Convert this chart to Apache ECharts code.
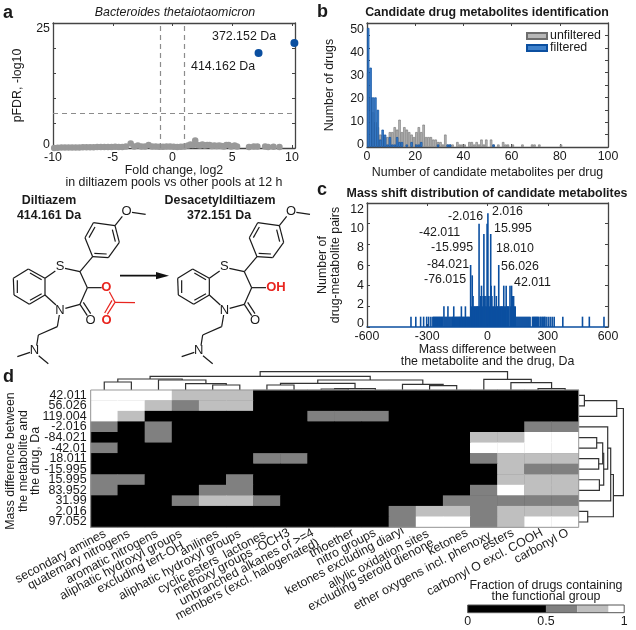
<!DOCTYPE html>
<html>
<head>
<meta charset="utf-8">
<style>
  html, body { margin: 0; padding: 0; background: #fff; }
  #chart { width: 636px; height: 630px; }
</style>
<script src="https://cdn.jsdelivr.net/npm/echarts@6/dist/echarts.min.js"></script>
</head>
<body>
<div id="chart"></div>
<script>
// panel a: volcano plot
const hitNames = ["372.152 Da", "414.162 Da"];
const hitFold = [10.2, 7.2];
const hitFdr = [21, 19];
const otherFold = [-9.9,-9.6,-9.3,-9,-8.7,-8.4,-8.1,-7.8,-7.5,-7.2,-6.9,-6.6,-6.3,-6,-5.7,-5.4,-5.1,-4.8,-4.5,-4.2,-3.9,-3.5,-3.2,-2.9,-2.6,-2.3,-2,-1.7,-1.4,-1.1,-0.8,-0.5,-0.2,0.1,0.4,0.7,1,1.3,1.5,1.7,1.9,2.1,2.3,2.5,2.7,2.9,3.1,3.3,3.5,3.7,3.9,4.1,4.3,4.5,4.7,4.9,5.2,5.4,6.4,6.8,7.1,7.75,8,8.45,8.95];
const otherFdr = [0,0.05,0.1,0.1,0.1,0.1,0.1,0.1,0.15,0.15,0.15,0.15,0.2,0.2,0.2,0.2,0.2,0.25,0.2,0.2,0.3,0.9,0.3,0.5,0.3,0.3,0.6,0.3,0.3,0.25,0.25,0.3,0.3,0.25,0.2,0.25,0.3,0.5,0.7,0.6,1.5,0.6,0.5,0.7,0.5,0.6,0.6,0.4,0.5,0.4,0.5,0.4,0.3,0.6,0.6,0.3,0.5,0.3,0.2,0.3,0.3,0.3,0.2,0.25,0.2];
const foldCuts = [-1, 1];
const fdrCut = 6.9;

// panel b: number of drugs per bin of one candidate, bins start at 0
const unfilteredCounts = [30,20,14,10,8,5,5,4,4,6,6,8,7,11,6,8,7,6,5,4,6,8,6,9,4,4,4,3,3,2,2,1,5,1,1,1,0,2,1,1,1,0,2,2,1,2,1,3,1,3,0,3,1,0,1,0,2,1,1,0,1,0,0,0,1,0,0,0,1,1,0,1,0,0,0,0,0,0,0,0,1];
const filteredCounts = [48,32,20,20,15,3,7,5,1,4,1,1,4,2,2,0,1,0,2,0,1,1,2,0,0,0,0,0,0,1,0,0,0,1,1,0,0,0,0,0,0,0,0,0,0,0,0,0,0,0,0,0,1];

// panel c: pairs per mass difference
const massDiff = [-381,-357,-333,-318,-303,-293,-282,-272,-268,-263,-258,-253,-248,-243,-238,-233,-228,-223,-217,-212,-207,-202,-197,-192,-187,-182,-177,-173,-168,-163,-158,-153,-148,-143,-138,-134,-130,-125,-120,-115,-110,-105,-100,-95,-90,-84,-80,-76,-72,-68,-64,-60,-56,-52,-48,-46,-42,-38,-34,-30,-26,-22,-18,-16,-12,-8,-5,-2,2,6,10,14,16,18,22,26,30,35,40,44,48,52,56,60,64,68,72,76,81,85,89,93,98,102,106,112,116,120,125,130,134,138,142,147,152,157,162,167,172,177,182,187,192,197,202,207,212,224,229,234,239,244,249,254,262,266,272,276,281,285,292,302,312,322,332,375,473,507,580];
const pairCount = [1,1,1,1,1,1,1,1,1,1,1,1,1,1,1,1,1,1,2,1,1,1,2,1,1,1,1,1,2,1,1,1,1,1,1,1,2,1,1,1,2,1,1,1,1,6,2,5,3,2,2,2,2,2,2,2,10,2,3,4,2,3,9,3,2,3,2,10,11,3,2,3,9,4,3,2,2,4,2,3,2,2,6,2,2,2,2,2,4,2,2,4,2,2,2,4,2,4,3,3,2,2,1,1,1,1,1,1,1,1,1,1,1,1,1,1,1,1,1,1,1,1,1,1,1,1,1,1,1,1,1,1,1,1,1,1,1,1,1];

// panel d: heat map, one row per mass difference
const massLabels = ["42.011","56.026","119.004","-2.016","-84.021","-42.01","18.011","-15.995","15.995","83.952","31.99","2.016","97.052"];
const groupLabels = ["secondary amines","quaternary nitrogens","aromatic nitrogens","aliphatic hydroxyl groups\nexcluding tert-OH","anilines","aliphatic hydroxyl groups","cyclic esters  lactones","methoxy groups -OCH3","unbranched alkanes of >=4\nmembers (excl. halogenated)","thioether","nitro groups","ketones excluding diaryl","allylic oxidation sites\nexcluding steroid dienone","ketones","ether oxygens incl. phenoxy","esters","carbonyl O excl. COOH","carbonyl O"];
const fractionRows = [
  [1,1,1,.8,.8,.8,0,0,0,0,0,0,0,0,0,0,0,0],
  [1,1,.8,.6,.8,.8,0,0,0,0,0,0,0,0,0,0,0,0],
  [1,.8,0,0,0,0,0,0,.6,.6,.6,0,0,0,0,0,0,0],
  [.6,0,.6,0,0,0,0,0,0,0,0,0,0,0,0,0,.6,.6],
  [0,0,.6,0,0,0,0,0,0,0,0,0,0,0,.8,.8,1,1],
  [.6,0,0,0,0,0,0,0,0,0,0,0,0,0,1,1,1,1],
  [0,0,0,0,0,0,.6,.6,0,0,0,0,0,0,.6,.8,.8,.8],
  [0,0,0,0,0,0,0,0,0,0,0,0,0,0,0,.8,.6,.6],
  [.6,.6,0,0,0,.6,0,0,0,0,0,0,0,0,0,.8,.8,.8],
  [.6,0,0,0,.6,.6,0,0,0,0,0,0,0,0,.6,1,.8,.8],
  [0,0,0,.6,.8,.8,.6,0,0,0,0,0,0,.6,.6,.6,.6,.6],
  [0,0,0,0,0,0,0,0,0,0,0,.6,.8,.8,.6,.8,.8,.8],
  [0,0,0,0,0,0,0,0,0,0,0,.6,1,1,.6,.8,1,1]
];
// dendrogram merges: from, its height, to, its height, merge height
const columnMerges = [
  [0.5,0,1.5,0,8],[4.5,0,5.5,0,5],[3.5,0,5,5,6.3],[2.5,0,4.25,6.3,10],[1,8,3.375,10,11],
  [6.5,0,7.5,0,5],[8.5,0,9.5,0,1],[9,1,10.5,0,1.5],[7,5,9.75,1.5,6.7],[12.5,0,13.5,0,4.3],
  [11.5,0,13,4.3,5.7],[8.375,6.7,12.25,5.7,10],[2.19,11,10.31,10,13.7],[16.5,0,17.5,0,1.5],
  [15.5,0,17,1.5,7.3],[14.5,0,16.25,7.3,10.7],[6.25,13.7,15.375,10.7,18.3]
];
const rowMerges = [
  [0.5,0,1.5,0,5.7],[1,5.7,2.5,0,38],[4.5,0,5.5,0,18],[6.5,0,7.5,0,20],[5,18,7,20,24],
  [8.5,0,9.5,0,20.7],[6,24,9,20.7,25],[3.5,0,7.5,25,29],[5.5,29,10.5,0,32],
  [11.5,0,12.5,0,9],[8,32,12,9,34.7],[1.75,38,10,34.7,44.7]
];
const scaleShades = ["#000000","#808080","#bfbfbf","#ffffff"];
const scaleSteps = [0.5, 0.2, 0.2, 0.1];

// where the slanted column labels end, one pair per printed line
const groupLabelEnds = [
  [105,533],[129,533],[157,533],[181,533,183,545],[218,533],[240,533],[265,534],[289,532],[313,532,318,542],
  [353,532],[375,532],[403,530],[428,533,433,542],[467,532],[490,535],[513,532],[542,532],[568,532]
];

// diltiazem skeleton, [x1,y1,x2,y2] in a 930 wide drawing
const skeletonBonds = [
  [40,280,85,252],[85,252,135,280],[135,280,135,330],[135,330,88,358],[88,358,42,330],[42,330,40,280],
  [52,286,52,324],[90,264,125,284],[90,346,125,326],
  [135,280,166,258],[195,250,240,260],[240,260,278,215],[240,260,262,308],[262,308,305,308],[262,308,240,358],
  [240,358,196,370],[135,330,168,360],[240,358,262,392],[250,352,272,386],
  [178,390,172,425],[172,425,115,450],[115,450,110,482],[90,502,52,515],[116,512,145,536],
  [278,215,325,218],[325,218,358,172],[358,172,345,122],[345,122,280,113],[280,113,255,158],[255,158,278,215],
  [283,205,320,207],[346,170,337,134],[267,158,285,126],[345,122,367,94],[396,82,437,88]
];
const acetylBonds = [[328,320,345,352],[345,352,405,353],[345,352,322,388],[336,346,314,384]];

const font = "Liberation Sans";
const fontSize = 12.4;
const inkColor = "#1a1a1a";
const boxColor = "#444";
const blue = "#0b4fa0";

const grids = [
  { left: 53, top: 23, width: 242, height: 125 },
  { left: 367, top: 23, width: 241, height: 124 },
  { left: 367, top: 203, width: 241, height: 124 },
  { left: 90.7, top: 390, width: 488, height: 137.3, show: true, backgroundColor: "#000", borderWidth: 0 },
  { left: 90.7, top: 365, width: 488, height: 25 },
  { left: 578.7, top: 390, width: 50, height: 137.3 },
  { left: 467.7, top: 605, width: 156.5, height: 7.7 }
].map(g => Object.assign(g, { outerBoundsMode: "none" }));

const xAxes = [];
const yAxes = [];

function boxAxes(grid, xOpt, yOpt, labelRange) {
  const tick = { show: true, inside: true, length: 3, lineStyle: { color: boxColor } };
  const line = { show: true, onZero: false, lineStyle: { color: boxColor, width: 1.3 } };
  const xi = xAxes.length;
  const yi = yAxes.length;
  xAxes.push(Object.assign({
    type: "value", gridIndex: grid, position: "bottom", splitLine: { show: false },
    axisLine: line, axisTick: tick, nameLocation: "middle",
    nameTextStyle: { color: inkColor, fontSize: fontSize, fontFamily: font, lineHeight: 12 },
    axisLabel: { color: inkColor, fontSize: fontSize, fontFamily: font, margin: 4, showMinLabel: true, showMaxLabel: true }
  }, xOpt));
  xAxes.push({
    type: "value", gridIndex: grid, position: "top", min: xOpt.min, max: xOpt.max, interval: xOpt.interval,
    splitLine: { show: false }, axisLine: line, axisTick: tick, axisLabel: { show: false }
  });
  yAxes.push(Object.assign({
    type: "value", gridIndex: grid, position: "left", splitLine: { show: false },
    axisLine: line, axisTick: tick, axisLabel: { show: false }, nameLocation: "middle",
    nameTextStyle: { color: inkColor, fontSize: fontSize, fontFamily: font, lineHeight: 13 }
  }, yOpt));
  yAxes.push({
    type: "value", gridIndex: grid, position: "right", min: yOpt.min, max: yOpt.max, interval: yOpt.interval,
    splitLine: { show: false }, axisLine: line, axisTick: tick, axisLabel: { show: false }
  });
  // the printed tick labels sit a little off the ticks, so they get their own scale
  yAxes.push({
    type: "value", gridIndex: grid, position: "left", min: labelRange.min, max: labelRange.max,
    splitLine: { show: false }, axisLine: { show: false }, axisTick: { show: false },
    axisLabel: { color: inkColor, fontSize: fontSize, fontFamily: font, margin: 3, customValues: labelRange.values }
  });
  return { x: xi, y: yi };
}

const axesA = boxAxes(0,
  { min: -10, max: 10.25, interval: 5, name: "Fold change, log2\nin diltiazem pools vs other pools at 12 h", nameGap: 13,
    axisLabel: { color: inkColor, fontSize: fontSize, fontFamily: font, margin: 4, customValues: [-10, -5, 0, 5, 10] } },
  { min: 0, max: 25, interval: 5, name: "pFDR, -log10", nameGap: 29 },
  { min: -0.65, max: 26.3, values: [0, 25] });
const axesB = boxAxes(1,
  { min: 0, max: 100, interval: 20, name: "Number of candidate metabolites per drug", nameGap: 20 },
  { min: 0, max: 50, interval: 5, name: "Number of drugs", nameGap: 31 },
  { min: -1.17, max: 52.7, values: [0, 10, 20, 30, 40, 50] });
const axesC = boxAxes(2,
  { min: -600, max: 600, interval: 300, name: "Mass difference between\nthe metabolite and the drug, Da", nameGap: 13,
    axisLine: { show: true, onZero: false, lineStyle: { color: blue, width: 1.5 } } },
  { min: 0, max: 12, interval: 2, name: "Number of\ndrug-metabolite pairs", nameGap: 25 },
  { min: -0.31, max: 12.66, values: [0, 2, 4, 6, 8, 10, 12] });

const heatX = xAxes.length;
xAxes.push({
  type: "category", gridIndex: 3, data: groupLabels, position: "bottom",
  axisLine: { show: false }, axisTick: { show: false }, splitArea: { show: false }, splitLine: { show: false },
  axisLabel: { show: false }
});
const heatY = yAxes.length;
yAxes.push({
  type: "category", gridIndex: 3, data: massLabels, inverse: true,
  axisLine: { show: false }, axisTick: { show: false }, splitArea: { show: false }, splitLine: { show: false },
  axisLabel: { interval: 0, margin: 4, color: inkColor, fontSize: 12.5, fontFamily: font, padding: [4, 0, 0, 0] }
});

const topDendroX = xAxes.length;
xAxes.push({ type: "value", gridIndex: 4, min: 0, max: 18, show: false });
const topDendroY = yAxes.length;
yAxes.push({ type: "value", gridIndex: 4, min: 0, max: 25, show: false });
const rightDendroX = xAxes.length;
xAxes.push({ type: "value", gridIndex: 5, min: 0, max: 50, show: false });
const rightDendroY = yAxes.length;
yAxes.push({ type: "value", gridIndex: 5, min: 0, max: 13, inverse: true, show: false });

const scaleX = xAxes.length;
xAxes.push({
  type: "value", gridIndex: 6, min: 0, max: 1, interval: 0.5,
  splitLine: { show: false }, axisLine: { show: false }, axisTick: { show: false },
  axisLabel: { color: inkColor, fontSize: fontSize, fontFamily: font, margin: 3 }
});
const scaleY = yAxes.length;
yAxes.push({ type: "category", gridIndex: 6, data: ["fraction"], show: false });

function dendrogramItem(horizontal) {
  return (params, api) => {
    const pt = (pos, h) => api.coord(horizontal ? [pos, h] : [h, pos]);
    const a = api.value(0), ah = api.value(1), b = api.value(2), bh = api.value(3), h = api.value(4);
    return {
      type: "polyline",
      shape: { points: [pt(a, ah), pt(a, h), pt(b, h), pt(b, bh)] },
      style: { stroke: "#333", fill: null, lineWidth: 1.2 }
    };
  };
}

const heatData = [];
fractionRows.forEach((row, r) => row.forEach((v, c) => heatData.push([c, r, v])));

const barsOf = (counts) => counts.map((v, i) => [i + 0.5, v]).filter(d => d[1] > 0);

const series = [
  {
    name: "other features", type: "scatter", xAxisIndex: axesA.x, yAxisIndex: axesA.y,
    symbolSize: 6.5, clip: false, itemStyle: { color: "#999", opacity: 1 },
    data: otherFold.map((x, i) => [x, otherFdr[i]]),
    markLine: {
      silent: true, symbol: "none", label: { show: false },
      lineStyle: { color: "#8c8c8c", type: [5, 4], width: 1.2 },
      data: foldCuts.map(x => ({ xAxis: x })).concat([{ yAxis: fdrCut }])
    }
  },
  {
    name: "hits", type: "scatter", xAxisIndex: axesA.x, yAxisIndex: axesA.y,
    symbolSize: 8, clip: false, itemStyle: { color: blue, opacity: 1 },
    data: hitFold.map((x, i) => ({ name: hitNames[i], value: [x, hitFdr[i]] }))
  },
  {
    name: "unfiltered", type: "bar", xAxisIndex: axesB.x, yAxisIndex: axesB.y, barWidth: 2.4, barGap: "-100%",
    itemStyle: { color: "#b8b8b8", borderColor: "#6e6e6e", borderWidth: 0.6 },
    data: barsOf(unfilteredCounts)
  },
  {
    name: "filtered", type: "bar", xAxisIndex: axesB.x, yAxisIndex: axesB.y, barWidth: 2.4, barGap: "-100%",
    itemStyle: { color: "#3f82cc", borderColor: "#0b4fa0", borderWidth: 0.7 },
    data: barsOf(filteredCounts)
  },
  {
    name: "mass shift", type: "bar", xAxisIndex: axesC.x, yAxisIndex: axesC.y, barWidth: 1.6,
    itemStyle: { color: blue },
    data: massDiff.map((x, i) => [x, pairCount[i]])
  },
  {
    name: "fraction", type: "heatmap", xAxisIndex: heatX, yAxisIndex: heatY, data: heatData,
    emphasis: { disabled: true }
  },
  {
    name: "column tree", type: "custom", xAxisIndex: topDendroX, yAxisIndex: topDendroY, clip: false,
    renderItem: dendrogramItem(true), data: columnMerges, encode: { x: [0, 2], y: [1, 3, 4] }
  },
  {
    name: "row tree", type: "custom", xAxisIndex: rightDendroX, yAxisIndex: rightDendroY, clip: false,
    renderItem: dendrogramItem(false), data: rowMerges, encode: { y: [0, 2], x: [1, 3, 4] }
  }
];
scaleSteps.forEach((step, i) => {
  series.push({
    name: "scale " + i, type: "bar", stack: "scale", xAxisIndex: scaleX, yAxisIndex: scaleY, barWidth: "100%",
    itemStyle: { color: scaleShades[i] }, data: [step]
  });
});

// free text: panel letters, titles, call-outs
function label(text, x, y, opts) {
  return {
    type: "text", x: x, y: y, silent: true,
    style: Object.assign({
      text: text, fill: inkColor, fontFamily: font, fontSize: fontSize,
      align: "left", verticalAlign: "middle"
    }, opts || {})
  };
}
const bold = { fontWeight: "bold" };
const centered = { align: "center" };
const centeredBold = { align: "center", fontWeight: "bold" };
const letter = { fontWeight: "bold", fontSize: 18 };

const drawX = (x) => x / 3;
const drawY = (y) => 185 + y / 3;
const bondLine = (b, dx, color, width) => ({
  type: "line", silent: true,
  shape: { x1: drawX(b[0] + dx), y1: drawY(b[1]), x2: drawX(b[2] + dx), y2: drawY(b[3]) },
  style: { stroke: color, lineWidth: width || 1.2 }
});
const atom = (text, x, y, color, opts) => label(text, drawX(x), drawY(y),
  Object.assign({ align: "center", fill: color, fontSize: 13 }, opts || {}));
const red = "#e8251f";

const graphic = [
  label("a", 3, 13, letter), label("b", 317, 12, letter), label("c", 317, 190, letter), label("d", 3, 377, letter),
  label("Bacteroides thetaiotaomicron", 175, 13, { align: "center", fontStyle: "italic" }),
  label("Candidate drug metabolites identification", 487, 13, centeredBold),
  label("Mass shift distribution of candidate metabolites", 487, 194, centeredBold),
  label("372.152 Da", 212, 37), label("414.162 Da", 191, 67),
  label("-2.016", 448, 217), label("2.016", 492, 212), label("-42.011", 419, 233), label("15.995", 494, 229),
  label("-15.995", 431, 248), label("18.010", 496, 249), label("-84.021", 427, 265), label("56.026", 501, 267),
  label("-76.015", 424, 280), label("42.011", 514, 283),
  label("Diltiazem", 49, 201, centeredBold), label("414.161 Da", 49, 216, centeredBold),
  label("Desacetyldiltiazem", 220, 201, centeredBold), label("372.151 Da", 219, 216, centeredBold),
  label("Fraction of drugs containing", 546, 586, centered), label("the functional group", 546, 597, centered),
  { type: "rect", silent: true, shape: { x: 467.7, y: 605, width: 156.5, height: 7.7 },
    style: { fill: null, stroke: "#555", lineWidth: 1 }, z: 20 },
  { type: "rect", silent: true, shape: { x: 90.7, y: 390, width: 488, height: 137.3 },
    style: { fill: null, stroke: "#999", lineWidth: 1 }, z: 20 }
];
[["Mass difference between", 11], ["the metabolite and", 24], ["the drug, Da", 36]].forEach((t) => {
  const item = label(t[0], t[1], 461, centered);
  item.rotation = Math.PI / 2;
  graphic.push(item);
});
groupLabels.forEach((name, c) => {
  const ends = groupLabelEnds[c];
  name.split("\n").forEach((line, i) => {
    const item = label(line, ends[i * 2], ends[i * 2 + 1], { align: "right" });
    item.rotation = 28 * Math.PI / 180;
    graphic.push(item);
  });
});
[0, 493].forEach((dx) => {
  skeletonBonds.forEach(b => graphic.push(bondLine(b, dx, "#1a1a1a")));
  graphic.push(atom("S", 180 + dx, 245, inkColor));
  graphic.push(atom("N", 180 + dx, 375, inkColor));
  graphic.push(atom("O", 272 + dx, 405, inkColor));
  graphic.push(atom("N", 103 + dx, 497, inkColor));
  graphic.push(atom("O", 380 + dx, 80, inkColor));
});
acetylBonds.forEach(b => graphic.push(bondLine(b, 0, red)));
graphic.push(atom("O", 319, 308, red, bold));
graphic.push(atom("O", 320, 405, red, bold));
graphic.push(atom("OH", 828, 308, red, bold));
graphic.push(bondLine([360, 272, 475, 272], 0, "#111", 1.6));
graphic.push({
  type: "polygon", silent: true,
  shape: { points: [[drawX(468), drawY(261)], [drawX(507), drawY(272)], [drawX(468), drawY(283)]] },
  style: { fill: "#111" }
});

const chart = echarts.init(document.getElementById("chart"));
chart.setOption({
  animation: false,
  backgroundColor: "#fff",
  tooltip: { show: false },
  grid: grids,
  xAxis: xAxes,
  yAxis: yAxes,
  legend: {
    orient: "vertical", left: 526, top: 30, itemWidth: 20, itemHeight: 6, itemGap: 0, padding: 0,
    icon: "rect", selectedMode: false, data: ["unfiltered", "filtered"],
    textStyle: { color: inkColor, fontSize: fontSize, fontFamily: font, lineHeight: 12, height: 12, padding: [0, 0, 0, -2] }
  },
  visualMap: {
    type: "piecewise", show: false, seriesIndex: 5, dimension: 2,
    pieces: [
      { min: 0, max: 0.5, color: scaleShades[0] },
      { gt: 0.5, lte: 0.7, color: scaleShades[1] },
      { gt: 0.7, lte: 0.9, color: scaleShades[2] },
      { gt: 0.9, lte: 1, color: scaleShades[3] }
    ]
  },
  series: series,
  graphic: graphic
});
</script>
</body>
</html>
